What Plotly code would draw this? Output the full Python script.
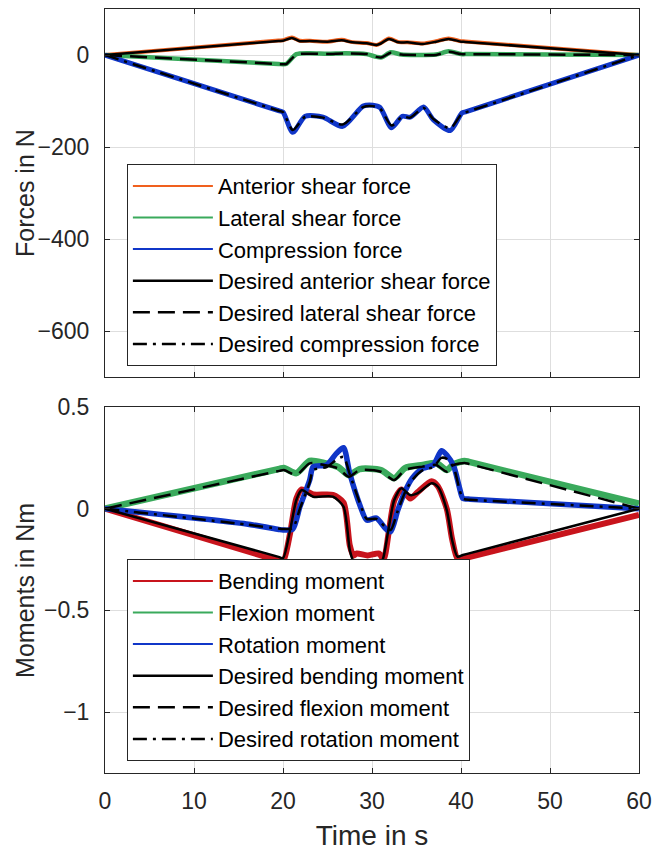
import plotly.graph_objects as go

# ---------------- data ----------------
# Top: forces in N
t_ant = [0, 19.5, 20, 21, 21.9, 23, 25, 26.6, 27.8, 29.4, 30.5, 31, 31.9, 33, 34, 35.7, 37.2, 38.6, 40, 40.5, 60]
ant_meas = [0, 31.5, 32, 38, 31, 31, 29, 33, 28, 26, 22, 26, 36, 28, 28, 25, 30, 36, 30, 29.5, 0]
ant_des = [0, 30.5, 31, 37, 30, 30.5, 29, 32, 27.6, 25.5, 22, 25, 35, 27.6, 27.6, 24, 29, 35, 29, 28.5, 0]

t_lat = [0, 19.5, 20, 20.4, 21.5, 23, 25, 27, 29.4, 30.5, 31.1, 32.1, 33.3, 34.9, 37.2, 38.6, 40, 40.5, 60]
lat_meas = [0, -19.5, -20, -19, 2, 4, 3, 4, 2, -4, -5, 6, 1, 0, 1, 8, 2, 2, 0]
lat_des = [0, -19.5, -20, -19, 1, 3, 2, 3.5, 2, -4, -5, 5, 1, 0, 0, 7, 2, 2, 0]

t_comp = [0, 19.5, 20, 21.1, 22.5, 24.5, 26.7, 29, 30.1, 30.9, 32.2, 33.4, 34.3, 35.8, 36.9, 38.8, 40.1, 40.6, 60]
comp_meas = [0, -121, -124, -168, -133, -135, -155, -111, -109, -114, -158, -133, -135, -113, -141, -164, -126, -123, 0]
comp_des = [0, -121, -124, -163, -134, -136, -151, -113, -111, -116, -153, -134, -136, -115, -139, -159, -127, -124, 0]

# Bottom: moments in Nm
t_bend = [0, 19.5, 20, 20.8, 21.5, 22.1, 23.4, 25.6, 26.8, 27.5, 27.9, 28.3, 29.5, 30.8, 31.3, 31.9,
          32.5, 33.3, 34.3, 35.1, 36.7, 37.4, 38.4, 39.0, 39.6, 40.2, 40.7, 60]
bend_meas = [0, -0.256, -0.262, -0.12, 0.05, 0.095, 0.07, 0.068, 0.03, -0.18, -0.23, -0.22, -0.23, -0.22, -0.25, -0.11,
             0.04, 0.095, 0.05, 0.08, 0.135, 0.11, 0.0, -0.15, -0.245, -0.245, -0.24, -0.03]
bend_des = [0, -0.237, -0.243, -0.105, 0.043, 0.092, 0.059, 0.059, 0.01, -0.203, -0.26, -0.29, -0.31, -0.29, -0.236, -0.089,
            0.043, 0.10, 0.067, 0.075, 0.125, 0.108, -0.007, -0.154, -0.236, -0.228, -0.222, 0]

t_flex = [0, 19.6, 20.1, 21.5, 23, 24.6, 26.2, 27.4, 28.6, 31, 32.5, 33.7, 35.7, 37.2, 38.4, 39.2, 40.4, 40.9, 60]
flex_meas = [0, 0.196, 0.20, 0.175, 0.235, 0.225, 0.205, 0.165, 0.195, 0.19, 0.15, 0.2, 0.215, 0.225, 0.19, 0.22, 0.235, 0.23, 0.025]
flex_des = [0, 0.186, 0.19, 0.166, 0.223, 0.215, 0.198, 0.157, 0.19, 0.182, 0.141, 0.19, 0.207, 0.215, 0.182, 0.215, 0.225, 0.22, 0]

t_rot = [0, 15.9, 19.5, 20, 21.1, 21.9, 23, 23.4, 24.9, 26, 26.8, 27.5, 28.7, 29.4, 30.5, 31.5, 32.1,
         32.9, 33.7, 34.5, 35.7, 36.9, 37.8, 38.4, 39.2, 39.8, 40.2, 40.6, 41.0, 60]
rot_meas = [0, -0.075, -0.102, -0.105, -0.1, 0.01, 0.141, 0.207, 0.215, 0.272, 0.30, 0.174, 0.01, -0.056, -0.046, -0.097, -0.113,
            -0.007, 0.084, 0.149, 0.198, 0.215, 0.285, 0.264, 0.207, 0.108, 0.051, 0.048, 0.047, 0]
rot_des = [0, -0.078, -0.098, -0.1, -0.095, 0.0, 0.13, 0.19, 0.205, 0.24, 0.255, 0.17, 0.02, -0.05, -0.05, -0.09, -0.105,
           -0.01, 0.08, 0.14, 0.19, 0.205, 0.25, 0.245, 0.2, 0.1, 0.05, 0.045, 0.044, 0]

# ---------------- styling ----------------
FONT = "Liberation Sans, Arial, sans-serif"
INK = "#262626"
ORANGE = "#F0601E"
GREEN = "#3AAA5C"
BLUE = "#1036C8"
RED = "#C8141C"
BLACK = "#000000"
DASH = "17px,8px"
DASHDOT = "14px,6px,3px,6px"
DES_W = 2.5

fig = go.Figure()


def meas(x, y, color, width, name, xa, ya, leg):
    fig.add_trace(go.Scatter(x=x, y=y, mode="lines",
                             line=dict(color=color, width=width, shape="spline", smoothing=0.7),
                             xaxis=xa, yaxis=ya, showlegend=False, legendgroup=name, hoverinfo="skip"))
    fig.add_trace(go.Scatter(x=[None], y=[None], mode="lines", line=dict(color=color, width=2),
                             xaxis=xa, yaxis=ya, name=name, legend=leg, legendgroup=name))


def des(x, y, dash, name, xa, ya, leg):
    fig.add_trace(go.Scatter(x=x, y=y, mode="lines",
                             line=dict(color=BLACK, width=DES_W, dash=dash, shape="spline", smoothing=0.7),
                             xaxis=xa, yaxis=ya, name=name, legend=leg, legendgroup=name))


# top subplot
meas(t_ant, ant_meas, ORANGE, 4, "Anterior shear force", "x", "y", "legend")
meas(t_lat, lat_meas, GREEN, 4.5, "Lateral shear force", "x", "y", "legend")
meas(t_comp, comp_meas, BLUE, 5, "Compression force", "x", "y", "legend")
des(t_ant, ant_des, "solid", "Desired anterior shear force", "x", "y", "legend")
des(t_lat, lat_des, DASH, "Desired lateral shear force", "x", "y", "legend")
des(t_comp, comp_des, DASHDOT, "Desired compression force", "x", "y", "legend")

# bottom subplot
meas(t_bend, bend_meas, RED, 6, "Bending moment", "x2", "y2", "legend2")
meas(t_flex, flex_meas, GREEN, 6.5, "Flexion moment", "x2", "y2", "legend2")
meas(t_rot, rot_meas, BLUE, 5.5, "Rotation moment", "x2", "y2", "legend2")
des(t_bend, bend_des, "solid", "Desired bending moment", "x2", "y2", "legend2")
des(t_flex, flex_des, DASH, "Desired flexion moment", "x2", "y2", "legend2")
des(t_rot, rot_des, DASHDOT, "Desired rotation moment", "x2", "y2", "legend2")

axis_common = dict(showline=True, linecolor=INK, linewidth=1, mirror="ticks",
                   ticks="inside", ticklen=5, tickcolor=INK, showgrid=True,
                   gridcolor="#DEDEDE", gridwidth=1, zeroline=False, automargin=False,
                   tickfont=dict(family=FONT, size=23, color=INK))

legend_common = dict(bgcolor="white", bordercolor=INK, borderwidth=1,
                     font=dict(family=FONT, size=22, color="black"),
                     xanchor="left", yanchor="top", xref="paper", yref="paper",
                     itemwidth=80, traceorder="normal", tracegroupgap=0)

X_TITLE_FONT = dict(family=FONT, size=28, color=INK)
Y_TITLE_FONT = dict(family=FONT, size=25, color=INK)

fig.update_layout(
    width=652, height=856,
    margin=dict(l=105, r=13, t=9, b=83),
    paper_bgcolor="white", plot_bgcolor="white",
    font=dict(family=FONT, color=INK),
    showlegend=True,
    xaxis=dict(domain=[0, 1], anchor="y", range=[0, 60], dtick=10, showticklabels=False, **axis_common),
    yaxis=dict(domain=[0.518, 1.0], anchor="x", range=[-700, 100], dtick=200,
               ticklabelstandoff=10, **axis_common),
    xaxis2=dict(domain=[0, 1], anchor="y2", range=[0, 60], dtick=10, ticklabelstandoff=7,
                title=dict(text="Time in s", font=X_TITLE_FONT, standoff=12),
                **axis_common),
    yaxis2=dict(domain=[0, 0.479], anchor="x2", range=[-1.3, 0.5], dtick=0.5,
                ticklabelstandoff=10, **axis_common),
    legend=dict(x=0.041, y=0.797, **legend_common),
    legend2=dict(x=0.041, y=0.280, **legend_common),
    annotations=[
        dict(text="Forces in N", xref="paper", yref="paper", x=-0.150, y=0.759,
             textangle=-90, showarrow=False, font=Y_TITLE_FONT, xanchor="center", yanchor="middle"),
        dict(text="Moments in Nm", xref="paper", yref="paper", x=-0.150, y=0.2395,
             textangle=-90, showarrow=False, font=Y_TITLE_FONT, xanchor="center", yanchor="middle"),
    ],
)

fig.write_html("out.html")
